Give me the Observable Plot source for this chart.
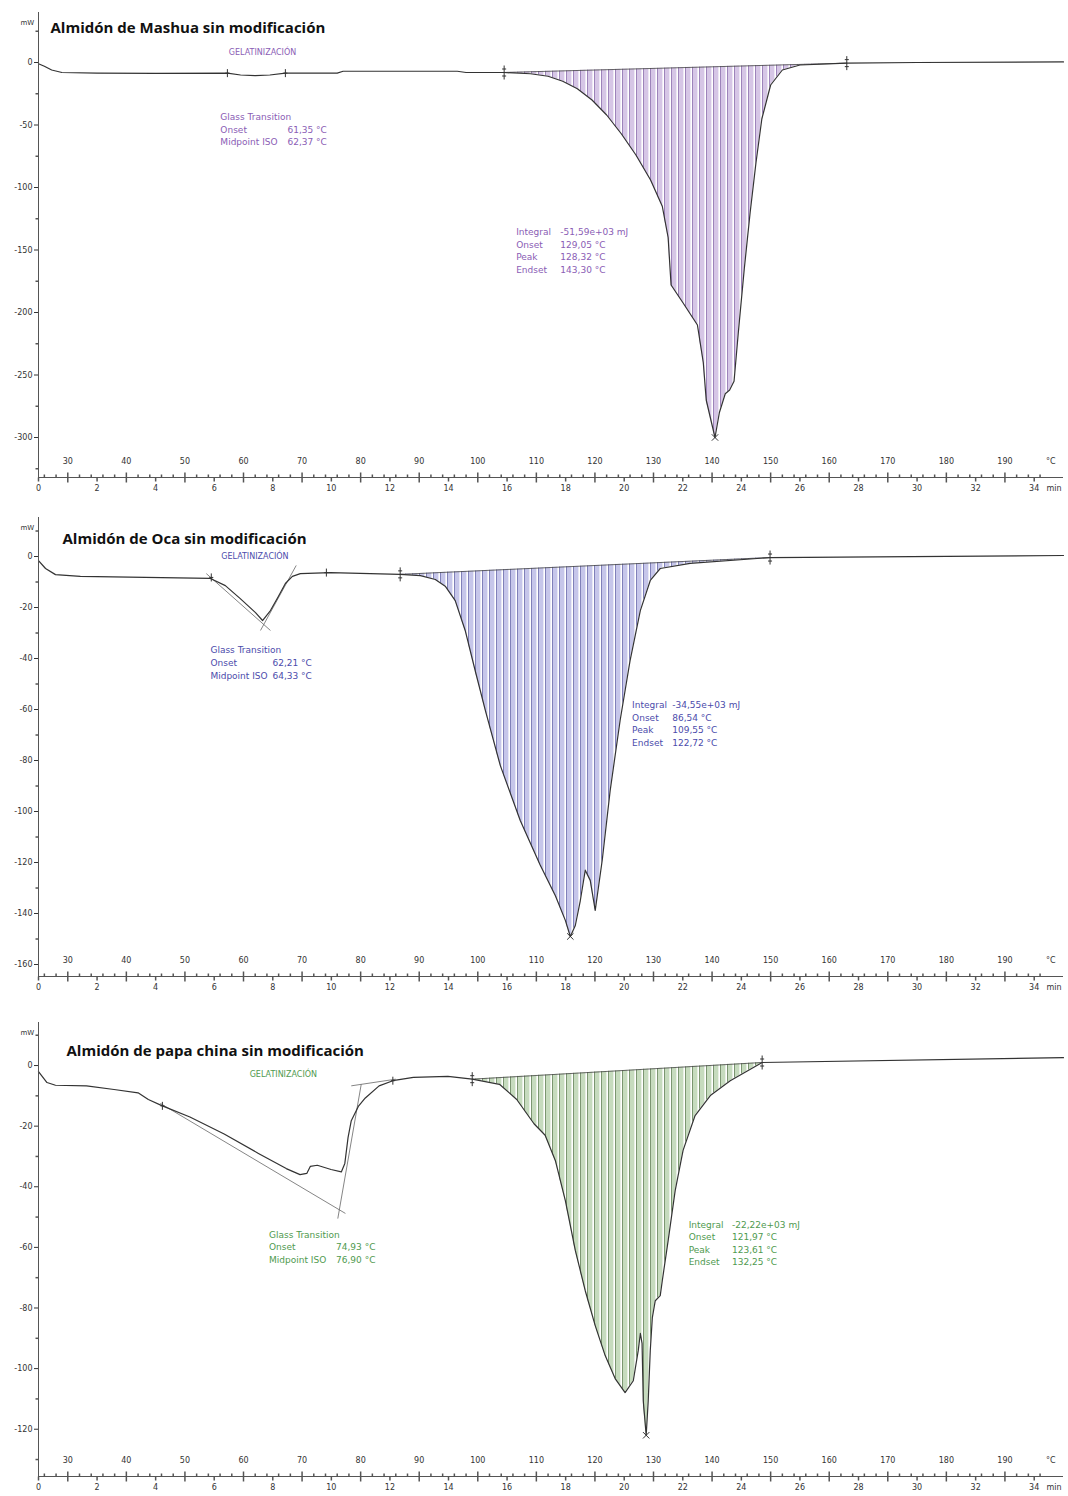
<!DOCTYPE html>
<html>
<head>
<meta charset="utf-8">
<script src="https://cdn.jsdelivr.net/npm/d3@7"></script>
<script src="https://cdn.jsdelivr.net/npm/@observablehq/plot@0.6"></script>
<style>
  body { margin: 0; background: #fff; }
  #charts { width: 1068px; }
  #charts svg { display: block; }
</style>
</head>
<body>
<svg width="0" height="0" style="position:absolute">
  <defs>
    <pattern id="hatch-mashua" patternUnits="userSpaceOnUse" width="7" height="8">
      <rect width="7" height="8" fill="#d6c6e6"/>
      <rect x="4.4" width="1.6" height="8" fill="#ffffff"/>
      <rect x="6.1" width="0.7" height="8" fill="#8466a8"/>
    </pattern>
    <pattern id="hatch-oca" patternUnits="userSpaceOnUse" width="7" height="8">
      <rect width="7" height="8" fill="#c6c6ea"/>
      <rect x="4.4" width="1.6" height="8" fill="#ffffff"/>
      <rect x="6.1" width="0.7" height="8" fill="#6262a4"/>
    </pattern>
    <pattern id="hatch-papa" patternUnits="userSpaceOnUse" width="7" height="8">
      <rect width="7" height="8" fill="#c6dbbe"/>
      <rect x="4.4" width="1.6" height="8" fill="#ffffff"/>
      <rect x="6.1" width="0.7" height="8" fill="#5a7850"/>
    </pattern>
  </defs>
</svg>
<div id="charts"></div>
<script>
// DSC thermograms of three native starches: heat flow (mW) against time (min),
// heating at 5 °C/min from 25 °C, so each time also reads as a temperature.

// ---- shared axis values ----
const tempTicks = [30, 40, 50, 60, 70, 80, 90, 100, 110, 120, 130, 140, 150, 160, 170, 180, 190];
const minTicks = [0, 2, 4, 6, 8, 10, 12, 14, 16, 18, 20, 22, 24, 26, 28, 30, 32, 34];
const startTemp = 25;   // °C at t = 0
const heatingRate = 5;  // °C per min

// ---- Almidón de Mashua ----
const mashuaTime = [0, 0.2, 0.45, 0.8, 2, 4, 6.45, 6.9, 7.4, 7.9, 8.43, 10.2, 10.4, 14.3, 14.6, 15.9, 16.8, 17.4, 17.9, 18.4, 18.9, 19.4, 19.9, 20.4, 20.9, 21.3, 21.5, 21.6, 22.0, 22.5, 22.7, 22.8, 23.0, 23.1, 23.25, 23.45, 23.6, 23.75, 23.9, 24.1, 24.3, 24.5, 24.7, 25.0, 25.4, 26.0, 27.6, 30, 35];
const mashuaHeat = [-1, -3, -6, -8, -8.5, -8.7, -8.5, -10, -10.5, -10, -8.5, -8.5, -7, -7, -8, -8, -9, -11, -15, -21, -30, -42, -57, -74, -94, -115, -140, -178, -192, -210, -240, -270, -290, -300, -280, -265, -262, -255, -215, -165, -120, -80, -45, -18, -6, -2, -0.5, 0, 0.5];
const mashuaLimits = [{t: 15.9, mW: -8}, {t: 27.6, mW: -0.5}];
const mashuaGlassMarks = [{t: 6.45, mW: -8.5}, {t: 8.43, mW: -8.5}];
const mashuaPeak = {t: 23.1, mW: -300};
const mashuaGlassLabels = ["Glass Transition", "Onset", "Midpoint ISO"];
const mashuaGlassValues = ["", "61,35 °C", "62,37 °C"];
const mashuaPeakLabels = ["Integral", "Onset", "Peak", "Endset"];
const mashuaPeakValues = ["-51,59e+03 mJ", "129,05 °C", "128,32 °C", "143,30 °C"];

// ---- Almidón de Oca ----
const ocaTime = [0, 0.24, 0.58, 1.43, 5.87, 6.38, 6.89, 7.41, 7.65, 7.92, 8.19, 8.43, 8.67, 8.94, 9.97, 12.35, 13.04, 13.55, 13.9, 14.23, 14.57, 14.91, 15.26, 15.77, 16.45, 17.13, 17.65, 17.99, 18.16, 18.33, 18.5, 18.67, 18.84, 19.01, 19.25, 19.52, 19.86, 20.2, 20.55, 20.89, 21.23, 22.25, 24.98, 35];
const ocaHeat = [-1.6, -4.7, -7.1, -7.8, -8.6, -11.4, -16.5, -22, -25.1, -21.2, -15.7, -10.6, -7.8, -6.7, -6.3, -7, -7.5, -9, -11.8, -17.3, -29, -44.7, -60.4, -82, -103.5, -121, -133, -142.7, -149, -144.7, -135, -123, -127, -138.8, -119, -91.8, -64.3, -40.8, -21.2, -9.4, -4.7, -2.7, -0.4, 0.4];
const ocaLimits = [{t: 12.35, mW: -7}, {t: 24.98, mW: -0.4}];
const ocaGlassMarks = [{t: 5.9, mW: -8.2}, {t: 9.83, mW: -6.3}];
const ocaPeak = {t: 18.16, mW: -149};
const ocaTangents = [
  {t1: 5.73, mW1: -6.7, t2: 7.92, mW2: -29},
  {t1: 7.58, mW1: -29, t2: 8.8, mW2: -3.5}
];
const ocaGlassLabels = ["Glass Transition", "Onset", "Midpoint ISO"];
const ocaGlassValues = ["", "62,21 °C", "64,33 °C"];
const ocaPeakLabels = ["Integral", "Onset", "Peak", "Endset"];
const ocaPeakValues = ["-34,55e+03 mJ", "86,54 °C", "109,55 °C", "122,72 °C"];

// ---- Almidón de papa china ----
const papaTime = [0, 0.29, 0.58, 1.64, 2.58, 3.4, 3.75, 4.23, 5.17, 6.34, 7.51, 8.46, 8.93, 9.16, 9.28, 9.52, 9.99, 10.34, 10.46, 10.57, 10.68, 10.92, 11.16, 11.63, 12.1, 12.8, 13.98, 14.81, 15.74, 16.33, 16.92, 17.3, 17.65, 17.99, 18.33, 18.67, 19.01, 19.35, 19.69, 20.03, 20.31, 20.48, 20.55, 20.61, 20.65, 20.75, 20.82, 20.89, 20.96, 21.06, 21.23, 21.3, 21.5, 21.74, 22.01, 22.42, 22.94, 23.62, 24.71, 35];
const papaHeat = [-2, -5.6, -6.5, -6.7, -7.9, -9, -11.2, -13.3, -17, -22.6, -29, -34, -36, -35.6, -33.3, -32.9, -34.3, -35.1, -32.3, -23.8, -18.2, -13.5, -10.7, -6.7, -5, -3.9, -3.6, -4.5, -6.2, -11.2, -19.2, -23, -31.4, -44.6, -61, -74.3, -85.8, -95.7, -103.3, -107.9, -104, -94, -88.4, -91.7, -110.6, -122, -110.6, -94, -83.2, -77.6, -75.9, -71, -57.8, -41.3, -28, -16.5, -9.9, -5, 1, 2.6];
const papaLimits = [{t: 14.81, mW: -4.5}, {t: 24.71, mW: 1}];
const papaGlassMarks = [{t: 4.23, mW: -13.3}, {t: 12.1, mW: -5}];
const papaPeak = {t: 20.75, mW: -122};
const papaTangents = [
  {t1: 4.16, mW1: -12.5, t2: 10.48, mW2: -48.8},
  {t1: 10.22, mW1: -50.5, t2: 11.02, mW2: -6.2},
  {t1: 10.68, mW1: -6.7, t2: 12.2, mW2: -4.5}
];
const papaGlassLabels = ["Glass Transition", "Onset", "Midpoint ISO"];
const papaGlassValues = ["", "74,93 °C", "76,90 °C"];
const papaPeakLabels = ["Integral", "Onset", "Peak", "Endset"];
const papaPeakValues = ["-22,22e+03 mJ", "121,97 °C", "123,61 °C", "132,25 °C"];

// ---- small path symbols for ticks and analysis markers ----
const vTick = (up, down) => ({draw(ctx) { ctx.moveTo(0, -up); ctx.lineTo(0, down); }});
const hTick = (len) => ({draw(ctx) { ctx.moveTo(-len, 0); ctx.lineTo(0, 0); }});
const limitSymbol = {draw(ctx) {
  ctx.moveTo(0, -7); ctx.lineTo(0, 7);
  ctx.moveTo(-2, -3.5); ctx.lineTo(2, -3.5);
  ctx.moveTo(-2, 3.5); ctx.lineTo(2, 3.5);
}};
const plusSymbol = {draw(ctx) {
  ctx.moveTo(0, -4); ctx.lineTo(0, 4);
  ctx.moveTo(-2, 0); ctx.lineTo(2, 0);
}};

const toMin = (T) => (T - startTemp) / heatingRate;
const font = "DejaVu Sans, Verdana, sans-serif";

function panel(cfg) {
  const curve = cfg.time.map((t, i) => ({t, mW: cfg.heat[i]}));
  const [a, b] = cfg.limits;
  // integration baseline: straight line between the two limit markers
  const baseAt = (t) => a.mW + (b.mW - a.mW) * (t - a.t) / (b.t - a.t);
  const peakArea = curve.filter((d) => d.t >= a.t && d.t <= b.t).map((d) => ({...d, base: baseAt(d.t)}));
  const tempMinor = d3.range(26, 198, 2).filter((T) => T % 10 !== 0);
  const axisColor = "#555";
  const note = {textAnchor: "start", lineAnchor: "top", lineHeight: 1.4, fontSize: 9, fill: cfg.textColor};

  return Plot.plot({
    width: 1068,
    height: cfg.height,
    marginLeft: 38,
    marginRight: 5,
    marginTop: cfg.marginTop,
    marginBottom: cfg.marginBottom,
    style: {fontFamily: font, fontSize: "8px", color: "#333", background: "#fff", overflow: "visible"},
    x: {domain: [0, 35], axis: null},
    y: {domain: cfg.yDomain, ticks: cfg.yLabels, tickSize: 4, tickPadding: 2, tickFormat: (d) => String(d), label: null},
    marks: [
      // integrated peak area, hatched
      Plot.areaY(peakArea, {x: "t", y1: "base", y2: "mW", fill: `url(#${cfg.hatch})`, curve: "linear"}),
      Plot.line(cfg.limits, {x: "t", y: "mW", stroke: "#444", strokeWidth: 0.8}),
      // glass-transition tangents
      Plot.link(cfg.tangents || [], {x1: "t1", y1: "mW1", x2: "t2", y2: "mW2", stroke: "#666", strokeWidth: 0.8}),
      // the DSC curve
      Plot.line(curve, {x: "t", y: "mW", stroke: "#333", strokeWidth: 1.2, curve: "linear"}),
      // analysis markers
      Plot.dot(cfg.limits, {x: "t", y: "mW", symbol: limitSymbol, r: 1, fill: "none", stroke: "#333", strokeWidth: 1}),
      Plot.dot(cfg.glassMarks, {x: "t", y: "mW", symbol: plusSymbol, r: 1, fill: "none", stroke: "#333", strokeWidth: 1}),
      Plot.dot([cfg.peak], {x: "t", y: "mW", symbol: "times", r: 3, stroke: "#333", strokeWidth: 1}),
      // axes
      Plot.ruleX([0], {stroke: axisColor}),
      Plot.ruleY([cfg.yDomain[0]], {stroke: axisColor}),
      Plot.dot(cfg.yMinor, {y: (d) => d, frameAnchor: "left", symbol: hTick(3), r: 1, fill: "none", stroke: axisColor}),
      Plot.dot(tempTicks, {x: toMin, frameAnchor: "bottom", symbol: vTick(5, 5), r: 1, fill: "none", stroke: axisColor}),
      Plot.dot(tempMinor, {x: toMin, frameAnchor: "bottom", symbol: vTick(3, 0), r: 1, fill: "none", stroke: axisColor}),
      Plot.dot(minTicks, {x: (d) => d, frameAnchor: "bottom", symbol: vTick(0, 4), r: 1, fill: "none", stroke: axisColor}),
      Plot.text(tempTicks, {x: toMin, frameAnchor: "bottom", dy: -14, text: (d) => String(d), fill: "#333"}),
      Plot.text(minTicks, {x: (d) => d, frameAnchor: "bottom", dy: 13, text: (d) => String(d), fill: "#333"}),
      Plot.text(["°C"], {frameAnchor: "bottom-right", dx: -8, dy: -14, fill: "#333"}),
      Plot.text(["min"], {frameAnchor: "bottom-right", dx: -2, dy: 13, textAnchor: "end", fill: "#333"}),
      Plot.text(["mW"], {frameAnchor: "top-left", dx: -18, dy: 8, fill: "#333", fontSize: 7}),
      // title
      Plot.text([cfg.title], {frameAnchor: "top-left", dx: cfg.titleDx, dy: cfg.titleDy, textAnchor: "start",
        fontFamily: "Open Sans, DejaVu Sans, sans-serif", fontWeight: "bold", fontSize: 15, fill: "#111"}),
      // annotations
      Plot.text(["GELATINIZACIÓN"], {x: () => cfg.gelAt.t, y: () => cfg.gelAt.mW, fill: cfg.textColor, fontSize: 8}),
      Plot.text([cfg.glassLabels.join("\n")], {x: () => cfg.glassAt.t, y: () => cfg.glassAt.mW, ...note}),
      Plot.text([cfg.glassValues.join("\n")], {x: () => cfg.glassAt.tv, y: () => cfg.glassAt.mW, ...note}),
      Plot.text([cfg.peakLabels.join("\n")], {x: () => cfg.peakAt.t, y: () => cfg.peakAt.mW, ...note}),
      Plot.text([cfg.peakValues.join("\n")], {x: () => cfg.peakAt.tv, y: () => cfg.peakAt.mW, ...note})
    ]
  });
}

const charts = document.getElementById("charts");

charts.append(panel({
  title: "Almidón de Mashua sin modificación", titleDx: 12, titleDy: 10,
  height: 500, marginTop: 12, marginBottom: 23,
  yDomain: [-332, 40], yLabels: [0, -50, -100, -150, -200, -250, -300], yMinor: [25, -25, -75, -125, -175, -225, -275, -325],
  time: mashuaTime, heat: mashuaHeat, limits: mashuaLimits, glassMarks: mashuaGlassMarks, peak: mashuaPeak,
  hatch: "hatch-mashua", textColor: "#8a5db5",
  gelAt: {t: 7.65, mW: 8},
  glassAt: {t: 6.21, tv: 8.5, mW: -39},
  peakAt: {t: 16.31, tv: 17.82, mW: -131},
  glassLabels: mashuaGlassLabels, glassValues: mashuaGlassValues, peakLabels: mashuaPeakLabels, peakValues: mashuaPeakValues
}));

charts.append(panel({
  title: "Almidón de Oca sin modificación", titleDx: 24, titleDy: 16,
  height: 502, marginTop: 17, marginBottom: 26,
  yDomain: [-164.7, 15.3], yLabels: [0, -20, -40, -60, -80, -100, -120, -140, -160], yMinor: [10, -10, -30, -50, -70, -90, -110, -130, -150],
  time: ocaTime, heat: ocaHeat, limits: ocaLimits, glassMarks: ocaGlassMarks, peak: ocaPeak, tangents: ocaTangents,
  hatch: "hatch-oca", textColor: "#4b4bab",
  gelAt: {t: 7.39, mW: 0},
  glassAt: {t: 5.87, tv: 7.99, mW: -34.5},
  peakAt: {t: 20.27, tv: 21.64, mW: -56},
  glassLabels: ocaGlassLabels, glassValues: ocaGlassValues, peakLabels: ocaPeakLabels, peakValues: ocaPeakValues
}));

charts.append(panel({
  title: "Almidón de papa china sin modificación", titleDx: 28, titleDy: 23,
  height: 494, marginTop: 20, marginBottom: 20,
  yDomain: [-135.6, 14.2], yLabels: [0, -20, -40, -60, -80, -100, -120], yMinor: [10, -10, -30, -50, -70, -90, -110, -130],
  time: papaTime, heat: papaHeat, limits: papaLimits, glassMarks: papaGlassMarks, peak: papaPeak, tangents: papaTangents,
  hatch: "hatch-papa", textColor: "#4f9a4f",
  gelAt: {t: 8.36, mW: -3},
  glassAt: {t: 7.87, tv: 10.16, mW: -53.8},
  peakAt: {t: 22.2, tv: 23.68, mW: -50.5},
  glassLabels: papaGlassLabels, glassValues: papaGlassValues, peakLabels: papaPeakLabels, peakValues: papaPeakValues
}));
</script>
</body>
</html>
